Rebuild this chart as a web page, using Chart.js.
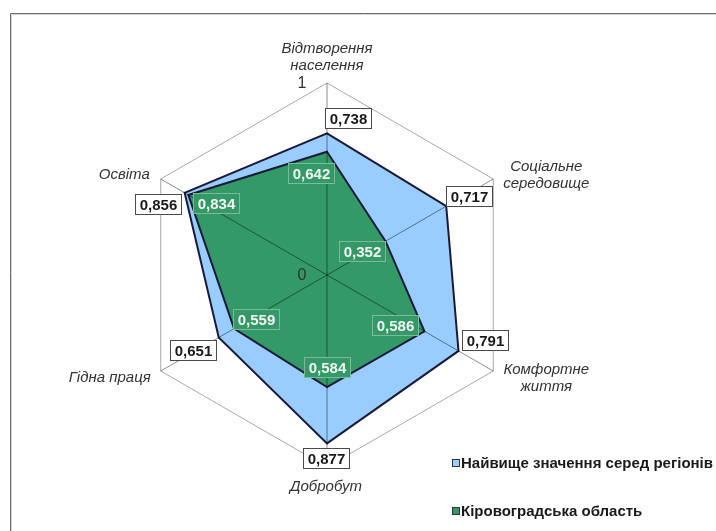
<!DOCTYPE html>
<html>
<head>
<meta charset="utf-8">
<script src="https://cdn.jsdelivr.net/npm/chart.js@4"></script>
<style>
    html, body { margin: 0; padding: 0; background: #ffffff; }
    canvas { display: block; }
</style>
</head>
<body>
<canvas id="radarChart" width="716" height="531"></canvas>
<script>
// ============ Data ============
const categories = [
    ['Відтворення', 'населення'],
    ['Соціальне', 'середовище'],
    ['Комфортне', 'життя'],
    ['Добробут'],
    ['Гідна праця'],
    ['Освіта']
];
const seriesNames = ['Найвище значення серед регіонів', 'Кіровоградська область'];
const highestValues = [0.738, 0.717, 0.791, 0.877, 0.651, 0.856];
const regionValues = [0.642, 0.352, 0.586, 0.584, 0.559, 0.834];
const tickLabels = ['0', '1'];

// ============ Style ============
const FONT = '"Liberation Sans", Arial, sans-serif';
const COLORS = {
    blue: '#99ccff',
    green: '#339966',
    outline: '#1b1b38',
    grid: '#a8a8a8',
    text: '#333333'
};
// where each value box sits, relative to its point
const highestOffsets = [[21, -15], [23, -10], [26, -11], [-1, 15], [-26, 13], [-27, 11]];
const regionOffsets = [[-16, 21], [-24, 10], [-29, -6], [0, -20], [22, -10], [28, 8]];
// axis title placement relative to the outer vertex: dx, dy, align
const titleOffsets = [[0, -26, 'center'], [53, -4, 'center'], [53, 7, 'center'], [-1, 20, 'center'], [-10, 7, 'right'], [-11, -4, 'right']];

// ============ Plugins ============
const framePlugin = {
    id: 'frame',
    beforeDraw(chart) {
        const ctx = chart.ctx;
        ctx.save();
        ctx.strokeStyle = '#d6d6d6';
        ctx.lineWidth = 1;
        ctx.beginPath();
        ctx.moveTo(11.5, 531); ctx.lineTo(11.5, 14.5); ctx.lineTo(716, 14.5);
        ctx.stroke();
        ctx.strokeStyle = '#6a6a6a';
        ctx.beginPath();
        ctx.moveTo(10.5, 531); ctx.lineTo(10.5, 13.5); ctx.lineTo(716, 13.5);
        ctx.stroke();
        ctx.restore();
    }
};

function drawBox(ctx, text, cx, cy, fill, stroke, color) {
    ctx.font = 'bold 15px ' + FONT;
    const w = Math.round(ctx.measureText(text).width + 8);
    const h = 20;
    const x = Math.round(cx - w / 2) + 0.5;
    const y = Math.round(cy - h / 2) + 0.5;
    ctx.fillStyle = fill;
    ctx.fillRect(x, y, w, h);
    ctx.strokeStyle = stroke;
    ctx.lineWidth = 1;
    ctx.strokeRect(x, y, w, h);
    ctx.fillStyle = color;
    ctx.textAlign = 'center';
    ctx.textBaseline = 'middle';
    ctx.fillText(text, x + w / 2, y + h / 2 + 1);
}

const overlayPlugin = {
    id: 'overlay',
    afterDatasetsDraw(chart) {
        const ctx = chart.ctx;
        const scale = chart.scales.r;
        const R = scale.drawingArea;
        ctx.save();

        // axis lines on top of the filled areas
        ctx.strokeStyle = 'rgba(0, 0, 0, 0.45)';
        ctx.lineWidth = 1;
        categories.forEach((c, i) => {
            const p = scale.getPointPosition(i, R);
            ctx.beginPath();
            ctx.moveTo(scale.xCenter, scale.yCenter);
            ctx.lineTo(p.x, p.y);
            ctx.stroke();
        });

        // tick labels 0 and 1, left of the first axis
        ctx.font = '16px ' + FONT;
        ctx.fillStyle = COLORS.text;
        ctx.textAlign = 'center';
        ctx.textBaseline = 'middle';
        tickLabels.forEach((t) => {
            const p = scale.getPointPosition(0, scale.getDistanceFromCenterForValue(Number(t)));
            ctx.fillText(t, p.x - 25, p.y + 1);
        });

        // axis titles
        ctx.font = 'italic 15px ' + FONT;
        categories.forEach((lines, i) => {
            const p = scale.getPointPosition(i, R);
            const [dx, dy, align] = titleOffsets[i];
            ctx.textAlign = align;
            const lh = 17;
            const top = p.y + dy - (lines.length - 1) * lh / 2;
            lines.forEach((line, k) => ctx.fillText(line, p.x + dx, top + k * lh));
        });

        // value boxes
        const fmt = (v) => v.toFixed(3).replace('.', ',');
        const metaHigh = chart.getDatasetMeta(0);
        const metaRegion = chart.getDatasetMeta(1);
        metaHigh.data.forEach((pt, i) => {
            const [dx, dy] = highestOffsets[i];
            drawBox(ctx, fmt(highestValues[i]), pt.x + dx, pt.y + dy, '#ffffff', '#4a4a4a', '#1a1a1a');
        });
        metaRegion.data.forEach((pt, i) => {
            const [dx, dy] = regionOffsets[i];
            drawBox(ctx, fmt(regionValues[i]), pt.x + dx, pt.y + dy, COLORS.green, '#7fb89a', '#f4f4f4');
        });

        // legend
        const legendColors = [COLORS.blue, COLORS.green];
        ctx.font = 'bold 15px ' + FONT;
        ctx.textAlign = 'left';
        seriesNames.forEach((name, i) => {
            const y = 463 + i * 48;
            ctx.fillStyle = legendColors[i];
            ctx.fillRect(452.5, y - 3.5, 7, 7);
            ctx.strokeStyle = '#333333';
            ctx.strokeRect(452.5, y - 3.5, 7, 7);
            ctx.fillStyle = '#1a1a1a';
            ctx.fillText(name, 461, y + 1);
        });
        ctx.restore();
    }
};

// ============ Chart ============
new Chart(document.getElementById('radarChart'), {
    type: 'radar',
    data: {
        labels: categories,
        datasets: [
            {
                label: seriesNames[0],
                data: highestValues,
                backgroundColor: COLORS.blue,
                borderColor: COLORS.outline,
                borderWidth: 2,
                pointRadius: 0,
                fill: true,
                order: 2
            },
            {
                label: seriesNames[1],
                data: regionValues,
                backgroundColor: COLORS.green,
                borderColor: COLORS.outline,
                borderWidth: 2,
                pointRadius: 0,
                fill: true,
                order: 1
            }
        ]
    },
    options: {
        responsive: false,
        animation: false,
        layout: { padding: { left: 135.5, right: 196.5, top: 83, bottom: 64 } },
        plugins: {
            legend: { display: false },
            tooltip: { enabled: false }
        },
        scales: {
            r: {
                min: 0,
                max: 1,
                ticks: { display: false, stepSize: 1 },
                grid: { color: COLORS.grid, lineWidth: 1 },
                angleLines: { display: false },
                pointLabels: { display: false }
            }
        }
    },
    plugins: [framePlugin, overlayPlugin]
});
</script>
</body>
</html>
